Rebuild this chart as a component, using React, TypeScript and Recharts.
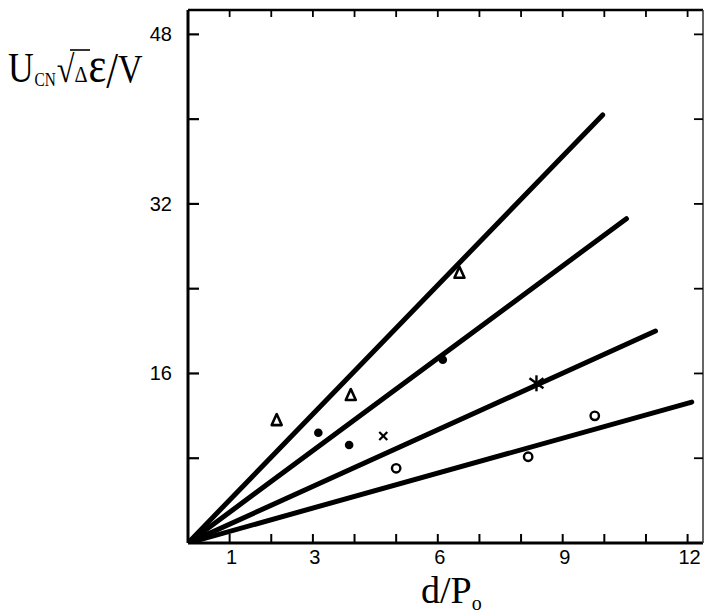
import { ComposedChart, Line, Scatter, XAxis, YAxis } from 'recharts';

// fitted lines, all through the origin: [x end, y end]
const lineA = [{ x: 0, y: 0 }, { x: 9.96, y: 40.4 }];
const lineB = [{ x: 0, y: 0 }, { x: 10.53, y: 30.6 }];
const lineC = [{ x: 0, y: 0 }, { x: 11.23, y: 20.0 }];
const lineD = [{ x: 0, y: 0 }, { x: 12.1, y: 13.3 }];

// measured points
const triangles = [{ x: 2.13, y: 11.6 }, { x: 3.91, y: 13.96 }, { x: 6.52, y: 25.5 }];
const dots = [{ x: 3.13, y: 10.4 }, { x: 3.87, y: 9.25 }, { x: 6.12, y: 17.3 }];
const crosses = [{ x: 4.69, y: 10.1 }];
const stars = [{ x: 8.37, y: 15.07 }];
const circles = [{ x: 5.0, y: 7.05 }, { x: 8.17, y: 8.14 }, { x: 9.77, y: 12.0 }];

const xTicks = [1, 2, 3, 4, 5, 6, 7, 8, 9, 10, 11, 12];
const xLabels = [1, 3, 6, 9, 12];
const yTicks = [8, 16, 24, 32, 40, 48];
const yLabels = [16, 32, 48];

const X_MAX = 12.37;
const Y_MAX = 50.3;

const numFont = '"Liberation Sans", Arial, sans-serif';
const serif = '"Liberation Serif", "Times New Roman", serif';

const BottomTick = (p: any) => (
  <g>
    <line x1={p.x} x2={p.x} y1={p.y} y2={p.y - 9} stroke="#000" strokeWidth={2} />
    {xLabels.includes(p.payload.value) && (
      <text x={p.x + 2} y={p.y + 21} textAnchor="middle" fontFamily={numFont} fontSize={20} fill="#000">
        {p.payload.value}
      </text>
    )}
  </g>
);

const LeftTick = (p: any) => (
  <g>
    <line x1={p.x} x2={p.x + 11} y1={p.y} y2={p.y} stroke="#000" strokeWidth={2.2} />
    {yLabels.includes(p.payload.value) && (
      <text x={p.x - 16} y={p.y + 7} textAnchor="end" fontFamily={numFont} fontSize={20} fill="#000">
        {p.payload.value}
      </text>
    )}
  </g>
);

const TopTick = (p: any) => (
  <line x1={p.x} x2={p.x} y1={p.y} y2={p.y + 7} stroke="#000" strokeWidth={1.8} />
);

const RightTick = (p: any) => (
  <line x1={p.x} x2={p.x - 9} y1={p.y} y2={p.y} stroke="#000" strokeWidth={1.8} />
);

const Triangle = (p: any) => (
  <polygon
    points={`${p.cx},${p.cy - 6} ${p.cx - 5},${p.cy + 5} ${p.cx + 5},${p.cy + 5}`}
    fill="#fff"
    stroke="#000"
    strokeWidth={2.6}
    strokeLinejoin="round"
  />
);

const Dot = (p: any) => <circle cx={p.cx} cy={p.cy} r={4.3} fill="#000" />;

const Cross = (p: any) => (
  <g stroke="#000" strokeWidth={2.2}>
    <line x1={p.cx - 4} y1={p.cy - 4} x2={p.cx + 4} y2={p.cy + 4} />
    <line x1={p.cx + 4} y1={p.cy - 4} x2={p.cx - 4} y2={p.cy + 4} />
  </g>
);

const Star = (p: any) => (
  <g stroke="#000" strokeWidth={2.4}>
    <line x1={p.cx} y1={p.cy - 8} x2={p.cx} y2={p.cy + 8} />
    <line x1={p.cx - 7} y1={p.cy - 5} x2={p.cx + 7} y2={p.cy + 5} />
    <line x1={p.cx + 7} y1={p.cy - 5} x2={p.cx - 7} y2={p.cy + 5} />
  </g>
);

const OpenCircle = (p: any) => (
  <circle cx={p.cx} cy={p.cy} r={4.2} fill="#fff" stroke="#000" strokeWidth={2.4} />
);

export default function App() {
  const lines = [lineA, lineB, lineC, lineD];
  return (
    <div style={{ position: 'absolute', left: 0, top: 0, width: 705, height: 616, background: '#fff' }}>
      <ComposedChart width={705} height={616} margin={{ top: 9, right: 1, bottom: 43, left: 148 }}>
        <XAxis
          type="number"
          dataKey="x"
          domain={[0, X_MAX]}
          ticks={xTicks}
          height={30}
          tickSize={0}
          tickMargin={0}
          tickLine={false}
          tick={BottomTick}
          axisLine={{ stroke: '#000', strokeWidth: 3 }}
          allowDataOverflow
        />
        <XAxis
          xAxisId="top"
          orientation="top"
          type="number"
          dataKey="x"
          domain={[0, X_MAX]}
          ticks={xTicks}
          height={1}
          tickSize={0}
          tickMargin={0}
          tickLine={false}
          tick={TopTick}
          axisLine={{ stroke: '#000', strokeWidth: 2.5 }}
          allowDataOverflow
        />
        <YAxis
          type="number"
          dataKey="y"
          domain={[0, Y_MAX]}
          ticks={yTicks}
          width={40}
          tickSize={0}
          tickMargin={0}
          tickLine={false}
          tick={LeftTick}
          axisLine={{ stroke: '#000', strokeWidth: 3 }}
          allowDataOverflow
        />
        <YAxis
          yAxisId="right"
          orientation="right"
          type="number"
          dataKey="y"
          domain={[0, Y_MAX]}
          ticks={yTicks}
          width={1}
          tickSize={0}
          tickMargin={0}
          tickLine={false}
          tick={RightTick}
          axisLine={{ stroke: '#333', strokeWidth: 1.5 }}
          allowDataOverflow
        />
        {lines.map((d, i) => (
          <Line
            key={i}
            data={d}
            dataKey="y"
            type="linear"
            stroke="#000"
            strokeWidth={5}
            strokeLinecap="round"
            dot={false}
            activeDot={false}
            isAnimationActive={false}
          />
        ))}
        <Scatter data={[]} xAxisId="top" yAxisId="right" isAnimationActive={false} />
        <Scatter data={triangles} shape={Triangle} isAnimationActive={false} />
        <Scatter data={dots} shape={Dot} isAnimationActive={false} />
        <Scatter data={crosses} shape={Cross} isAnimationActive={false} />
        <Scatter data={stars} shape={Star} isAnimationActive={false} />
        <Scatter data={circles} shape={OpenCircle} isAnimationActive={false} />
      </ComposedChart>
      <svg width={705} height={616} style={{ position: 'absolute', left: 0, top: 0, pointerEvents: 'none' }}>
        <g transform="scale(0.85,1)" fontFamily={serif} fill="#000">
          <text x={9.4} y={82}>
            <tspan fontSize={42}>U</tspan>
            <tspan fontSize={18} dy={4} dx={1}>CN</tspan>
            <tspan fontSize={38} dy={-4} dx={1} fontWeight="bold">√</tspan>
            <tspan fontSize={24}>Δ</tspan>
            <tspan fontSize={50} dx={1}>ε</tspan>
            <tspan fontSize={50} dy={5}>/</tspan>
            <tspan fontSize={40} dy={-5}>V</tspan>
          </text>
        </g>
        <line x1={70} y1={50} x2={90} y2={50} stroke="#000" strokeWidth={1.6} />
        <text x={421} y={603} fontFamily={serif} fill="#000">
          <tspan fontSize={38}>d/P</tspan>
          <tspan fontSize={20} dy={7}>o</tspan>
        </text>
      </svg>
    </div>
  );
}
